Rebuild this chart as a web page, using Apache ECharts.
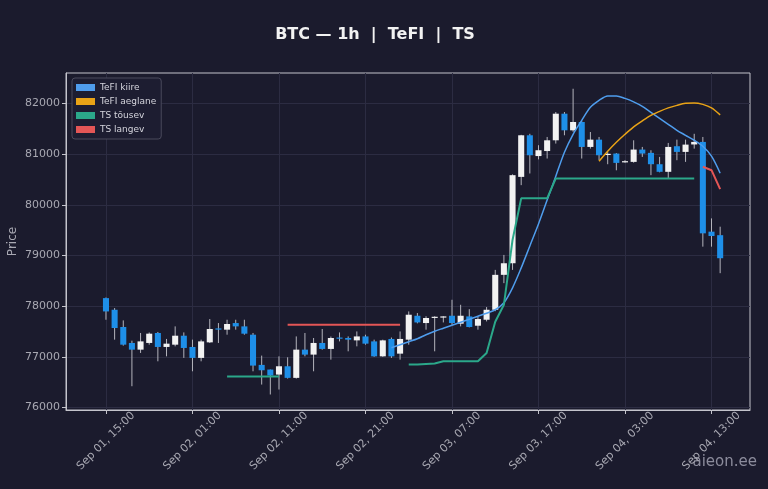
<!DOCTYPE html>
<html>
<head>
<meta charset="utf-8">
<script src="https://cdn.jsdelivr.net/npm/echarts@6/dist/echarts.min.js"></script>
<style>
  html, body { margin: 0; padding: 0; background: #1b1b2d; }
  #main { width: 768px; height: 489px; }
</style>
</head>
<body>
<div id="main"></div>
<script>
// hourly candles, Sep 01 15:00 .. Sep 04 14:00
var openP  = [78158,77928,77588,77273,77141,77273,77470,77194,77239,77416,77194,76978,77285,77560,77535,77666,77600,77436,76840,76748,
              76649,76813,76584,77141,77043,77273,77155,77380,77371,77324,77402,77304,77009,77352,77062,77338,77810,77666,77775,77780,
              77810,77653,77797,77613,77731,77928,78617,78846,80550,81371,80961,81060,81272,81797,81469,81633,81141,81285,80990,81010,
              80846,80846,81089,81024,80800,80650,81155,81043,81190,81240,79469,79400];
var highP  = [78170,77961,77718,77318,77470,77480,77490,77352,77600,77481,77338,77338,77745,77666,77731,77731,77731,77470,77023,76748,
              77009,76990,77402,77470,77371,77548,77400,77481,77402,77500,77436,77338,77338,77380,77500,77895,77863,77800,77800,77800,
              78125,78026,77940,77800,77981,78715,79010,80600,81380,81400,81175,81338,81830,81830,82289,81650,81436,81338,81040,81020,
              80880,81272,81141,81076,80944,81220,81285,81285,81400,81338,79731,79567];
var lowP   = [77731,77338,77220,76419,77076,77239,76911,77009,77206,76978,76714,76911,77273,77273,77436,77535,77436,76714,76452,76256,
              76354,76570,76570,77009,76714,77140,76944,77304,77108,77206,77239,77000,77000,76978,76944,77239,77660,77535,77108,77678,
              77633,77600,77580,77535,77698,77900,78453,78715,80387,80617,80895,80912,81207,81371,81440,80912,81108,80879,80800,80680,
              80830,80830,80944,80584,80640,80518,80879,80846,81108,79173,79173,78650];
var closeP = [77895,77568,77239,77141,77304,77456,77194,77259,77416,77174,76978,77304,77548,77540,77647,77600,77456,76826,76734,76630,
              76813,76584,77141,77043,77273,77155,77371,77360,77338,77402,77259,77009,77324,77009,77352,77830,77678,77765,77790,77797,
              77666,77810,77588,77745,77928,78617,78846,80584,81371,80977,81076,81272,81797,81469,81633,81141,81285,80977,81005,80826,
              80860,81089,81010,80800,80650,81141,81043,81187,81240,79436,79384,78945];

// indicator lines (start index + values)
var tefiFastStart = 33;
var tefiFast = [77180,77239,77298,77357,77436,77505,77564,77623,77682,77741,77800,77859,77928,78066,78361,78754,79187,79620,80092,80564,
                81037,81391,81666,81922,82060,82148,82148,82099,82030,81942,81823,81705,81587,81469,81371,81273,81155,80958,80623];
var tefiSlowStart = 57;
var tefiSlow = [80859,81056,81233,81391,81538,81656,81764,81843,81912,81961,82001,82010,81981,81912,81774];
var tsUpStart1 = 14;
var tsUp1 = [76610,76610,76610,76610,76610,76610,76610];
var tsUpStart2 = 35;
var tsUp2 = [76846,76846,76856,76866,76911,76911,76911,76911,76911,77076,77692,78026,79305,80126,80126,80126,80126,80519,80519,80519,
             80519,80519,80519,80519,80519,80519,80519,80519,80519,80519,80519,80519,80519,80519];
var tsDownStart1 = 21;
var tsDown1 = [77633,77633,77633,77633,77633,77633,77633,77633,77633,77633,77633,77633,77633,77633];
var tsDownStart2 = 69;
var tsDown2 = [80751,80682,80309];

var tickIdx = [0,10,20,30,40,50,60,70];
var tickLabels = ['Sep 01, 15:00','Sep 02, 01:00','Sep 02, 11:00','Sep 02, 21:00','Sep 03, 07:00','Sep 03, 17:00','Sep 04, 03:00','Sep 04, 13:00'];
var priceTicks = [76000,77000,78000,79000,80000,81000,82000];

var N = openP.length;

function toLine(parts) {
    var out = [];
    for (var i = 0; i < N; i++) out.push([i, null]);
    parts.forEach(function (p) {
        p[1].forEach(function (v, k) { out[p[0] + k] = [p[0] + k, v]; });
    });
    return out;
}

var candles = [];
for (var i = 0; i < N; i++) candles.push([i, openP[i], closeP[i], lowP[i], highP[i]]);

function renderCandle(params, api) {
    var x = api.value(0);
    var o = api.value(1), c = api.value(2), l = api.value(3), h = api.value(4);
    var pO = api.coord([x, o]), pC = api.coord([x, c]);
    var pL = api.coord([x, l]), pH = api.coord([x, h]);
    var w = api.size([1, 0])[0] * 0.7;
    var up = c >= o;
    return {
        type: 'group',
        children: [
            { type: 'line', shape: { x1: pH[0], y1: pH[1], x2: pL[0], y2: pL[1] },
              style: { stroke: '#b4b4bc', lineWidth: 1 } },
            { type: 'rect', shape: { x: pO[0] - w / 2, y: Math.min(pO[1], pC[1]), width: w,
                                     height: Math.max(Math.abs(pO[1] - pC[1]), 1.2) },
              style: { fill: up ? '#f2f2f2' : '#1e8fe8' } }
        ]
    };
}

var myChart = echarts.init(document.getElementById('main'));

var gridCol = '#2c2c42';
var frameCol = '#c4c4cc';
var txtCol = '#a8a8b2';

var option = {
    backgroundColor: '#1b1b2d',
    animation: false,
    title: {
        text: 'BTC — 1h  |  TeFI  |  TS',
        left: 370,
        top: 22,
        textAlign: 'center',
        textStyle: { color: '#f2f2f2', fontSize: 16, fontWeight: 'bold', fontFamily: 'DejaVu Sans' }
    },
    legend: {
        data: ['TeFI kiire', 'TeFI aeglane', 'TS tõusev', 'TS langev'],
        orient: 'vertical',
        left: 72,
        top: 78,
        icon: 'rect',
        itemWidth: 19,
        itemHeight: 7,
        itemGap: 5,
        padding: [5, 5, 5, 4],
        backgroundColor: '#1d1d31',
        borderColor: '#4a4a5c',
        borderWidth: 1,
        borderRadius: 3,
        textStyle: { color: '#d4d4dc', fontSize: 9, fontFamily: 'DejaVu Sans' }
    },
    grid: {
        left: 66, right: 18, top: 73, bottom: 79,
        outerBoundsMode: 'none',
        containLabel: false,
        show: true, borderColor: frameCol, borderWidth: 1
    },
    xAxis: {
        type: 'value',
        min: -4.62,
        max: 74.45,
        axisLine: { onZero: false, lineStyle: { color: frameCol } },
        axisTick: { customValues: tickIdx, length: 4, lineStyle: { color: frameCol } },
        axisLabel: {
            customValues: tickIdx,
            rotate: 45,
            align: 'center',
            verticalAlign: 'middle',
            margin: 31,
            color: txtCol,
            fontSize: 11,
            fontFamily: 'DejaVu Sans',
            formatter: function (v) { return tickLabels[tickIdx.indexOf(Math.round(v))] || ''; }
        },
        splitLine: { show: true, lineStyle: { color: gridCol, width: 1 } }
    },
    yAxis: {
        type: 'value',
        min: 75950,
        max: 82600,
        name: 'Price',
        nameLocation: 'middle',
        nameGap: 47,
        nameMoveOverlap: false,
        nameTextStyle: { color: txtCol, fontSize: 12, fontFamily: 'DejaVu Sans' },
        axisLine: { show: true, onZero: false, lineStyle: { color: frameCol } },
        axisTick: { show: true, customValues: priceTicks, length: 4, lineStyle: { color: frameCol } },
        axisLabel: {
            customValues: priceTicks, color: txtCol, fontSize: 11, fontFamily: 'DejaVu Sans', margin: 6,
            formatter: function (v) { return String(v); }
        },
        splitLine: { show: true, lineStyle: { color: gridCol, width: 1 } }
    },
    graphic: [{
        type: 'text',
        right: 11,
        top: 455,
        style: { text: 'aieon.ee', fill: '#8c8c9c', font: '15px "DejaVu Sans"' }
    }],
    series: [
        {
            name: 'OHLC',
            type: 'custom',
            renderItem: renderCandle,
            encode: { x: 0, y: [1, 2, 3, 4] },
            data: candles,
            z: 2
        },
        {
            name: 'TeFI kiire',
            type: 'line',
            color: '#4f9ded',
            showSymbol: false,
            smooth: 0.3,
            lineStyle: { width: 1.5 },
            data: toLine([[tefiFastStart, tefiFast]]),
            z: 3
        },
        {
            name: 'TeFI aeglane',
            type: 'line',
            color: '#e9a316',
            showSymbol: false,
            smooth: 0.3,
            lineStyle: { width: 1.5 },
            data: toLine([[tefiSlowStart, tefiSlow]]),
            z: 3
        },
        {
            name: 'TS tõusev',
            type: 'line',
            color: '#2ba88a',
            showSymbol: false,
            lineStyle: { width: 2 },
            data: toLine([[tsUpStart1, tsUp1], [tsUpStart2, tsUp2]]),
            z: 3
        },
        {
            name: 'TS langev',
            type: 'line',
            color: '#e45656',
            showSymbol: false,
            lineStyle: { width: 2 },
            data: toLine([[tsDownStart1, tsDown1], [tsDownStart2, tsDown2]]),
            z: 3
        }
    ]
};

myChart.setOption(option);
</script>
</body>
</html>
